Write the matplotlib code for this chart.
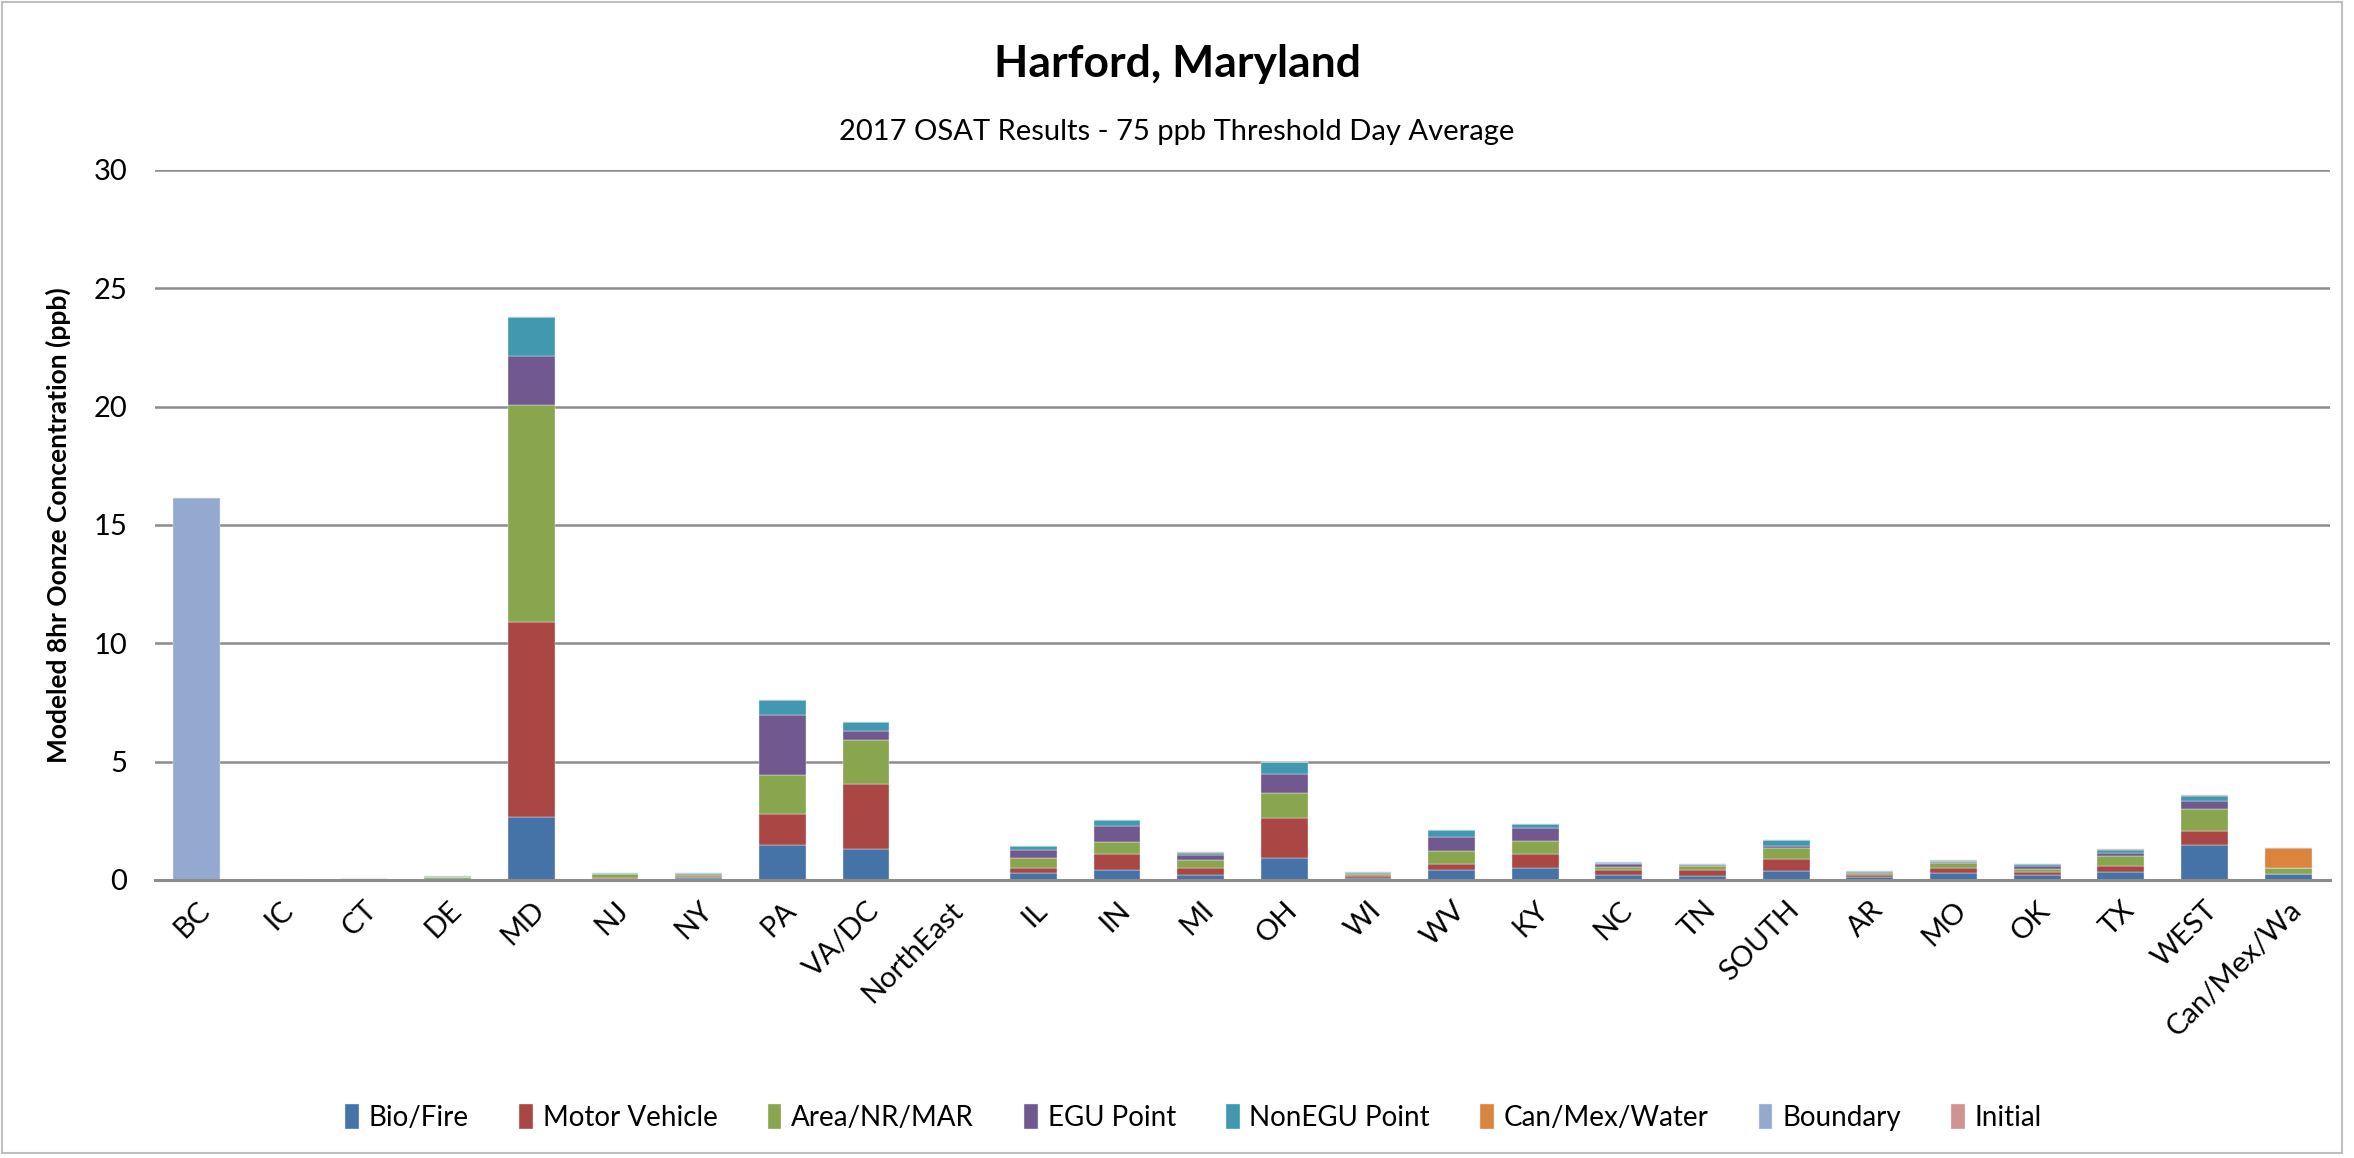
import matplotlib
matplotlib.use('Agg')
import matplotlib.pyplot as plt
import numpy as np
from matplotlib.patches import Rectangle

plt.rcParams['font.family'] = ['Lato', 'DejaVu Sans']

regions = ['BC', 'IC', 'CT', 'DE', 'MD', 'NJ', 'NY', 'PA', 'VA/DC', 'NorthEast',
           'IL', 'IN', 'MI', 'OH', 'WI', 'WV', 'KY', 'NC', 'TN', 'SOUTH',
           'AR', 'MO', 'OK', 'TX', 'WEST', 'Can/Mex/Wa']

bio_fire  = [0, 0, 0.01, 0.03, 2.64, 0.02, 0.07, 1.47, 1.31, 0, 0.28, 0.44, 0.20, 0.94, 0.08,
             0.44, 0.52, 0.20, 0.15, 0.39, 0.13, 0.28, 0.20, 0.35, 1.49, 0.27]
motor_veh = [0, 0, 0.01, 0.02, 8.26, 0.05, 0.05, 1.32, 2.76, 0, 0.24, 0.66, 0.32, 1.68, 0.08,
             0.25, 0.59, 0.20, 0.27, 0.51, 0.06, 0.24, 0.13, 0.25, 0.59, 0.0]
area_nr   = [0, 0, 0.01, 0.06, 9.16, 0.17, 0.11, 1.65, 1.85, 0, 0.39, 0.51, 0.31, 1.07, 0.11,
             0.55, 0.55, 0.13, 0.17, 0.44, 0.11, 0.18, 0.15, 0.41, 0.90, 0.24]
egu_pt    = [0, 0, 0, 0.01, 2.09, 0.03, 0.03, 2.51, 0.36, 0, 0.34, 0.69, 0.24, 0.80, 0.02,
             0.59, 0.54, 0.15, 0.03, 0.11, 0.04, 0.07, 0.11, 0.11, 0.37, 0.0]
nonegu_pt = [0, 0, 0, 0.02, 1.62, 0.03, 0.04, 0.64, 0.38, 0, 0.18, 0.24, 0.07, 0.48, 0.05,
             0.28, 0.17, 0.04, 0.06, 0.24, 0.04, 0.03, 0.08, 0.14, 0.21, 0.0]
can_mex   = [0, 0, 0, 0, 0, 0, 0, 0, 0, 0, 0, 0, 0.05, 0, 0,
             0, 0, 0, 0, 0, 0, 0, 0, 0.04, 0.03, 0.82]
boundary  = [16.15, 0, 0, 0.01, 0, 0, 0, 0, 0, 0, 0.02, 0, 0, 0, 0,
             0, 0, 0.03, 0, 0, 0, 0.03, 0, 0, 0, 0]
initial   = [0, 0.03, 0, 0, 0, 0, 0, 0, 0, 0, 0, 0, 0, 0, 0,
             0, 0, 0, 0, 0, 0, 0, 0, 0.01, 0.02, 0.03]

series = [('Bio/Fire', bio_fire, '#4572A7'),
          ('Motor Vehicle', motor_veh, '#AA4643'),
          ('Area/NR/MAR', area_nr, '#89A54E'),
          ('EGU Point', egu_pt, '#71588F'),
          ('NonEGU Point', nonegu_pt, '#4198AF'),
          ('Can/Mex/Water', can_mex, '#DB843D'),
          ('Boundary', boundary, '#93A9CF'),
          ('Initial', initial, '#D19392')]

fig = plt.figure(figsize=(23.54, 11.58), dpi=100)
ax = fig.add_axes([0.0658, 0.2401, 0.924, 0.6131])

x = np.arange(len(regions))
bottom = np.zeros(len(regions))
for name, vals, col in series:
    vals = np.array(vals)
    ax.bar(x, vals, 0.56, bottom=bottom, color=col, label=name,
           edgecolor='#e8eef5', linewidth=0.3)
    bottom += vals

ax.set_ylim(0, 30)
ax.set_xlim(-0.5, len(regions) - 0.5)
ax.set_yticks(np.arange(0, 31, 5))
ax.yaxis.grid(True, color='#8c8c8c', linewidth=1.8)
ax.set_axisbelow(True)
for s in ['top', 'right', 'left']:
    ax.spines[s].set_visible(False)
ax.spines['bottom'].set_color('#8c8c8c')
ax.spines['bottom'].set_linewidth(2.2)
ax.tick_params(axis='both', length=0, labelsize=21)
ax.tick_params(axis='x', pad=12)
ax.tick_params(axis='y', pad=20)
ax.set_xticks(x)
ax.set_xticklabels(regions, rotation=45, ha='right', rotation_mode='anchor')

ax.set_ylabel('Modeled 8hr Oonze Concentration (ppb)', fontsize=19, fontweight='bold', labelpad=16)

fig.text(0.5, 0.945, 'Harford, Maryland', ha='center', va='center', fontsize=32, fontweight='bold')
fig.text(0.5, 0.886, '2017 OSAT Results - 75 ppb Threshold Day Average', ha='center', va='center', fontsize=21)

fig.legend(loc='center', bbox_to_anchor=(0.507, 0.035), ncol=8, frameon=False, fontsize=20,
           handlelength=0.5, handleheight=1.0, handletextpad=0.35, columnspacing=1.8)

fig.patches.append(Rectangle((0.001, 0.004), 0.994, 0.994, transform=fig.transFigure,
                             fill=False, edgecolor='#bfbfbf', linewidth=1.5))

fig.savefig('out.png', dpi=100)
